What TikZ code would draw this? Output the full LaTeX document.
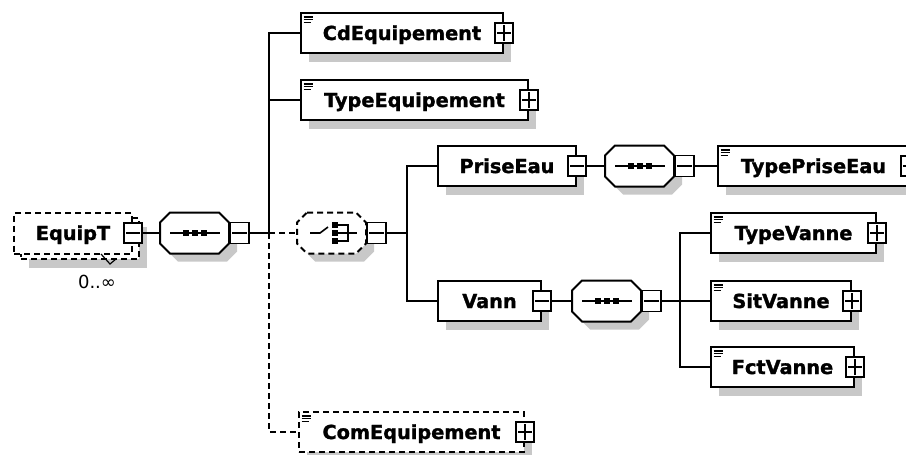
\documentclass[tikz,border=0pt]{standalone}
\usepackage{fontspec}
\setmainfont{DejaVu Sans}
\newfontfamily\heavyfont[FakeBold=1.5]{DejaVu Sans Bold}
\usetikzlibrary{shadows}
\definecolor{shd}{RGB}{200,200,200}
\tikzset{
  elembox/.style={draw, line width=2pt, fill=white, inner sep=0pt, minimum height=40pt,
    text height=14pt, text depth=0pt, font=\heavyfont\fontsize{19.3}{20}\selectfont, anchor=west},
  shadowed/.style={drop shadow={shadow xshift=8pt, shadow yshift=-9pt, fill=shd, opacity=1}},
  optbox/.style={dash pattern=on 6pt off 4pt},
  signbox/.style={draw, solid, line width=1.6pt, fill=white, minimum width=18pt, minimum height=20pt, inner sep=0pt},
  conn/.style={line width=2pt},
  thinline/.style={line width=1.6pt}
}
\newcommand\xsign[2]{%
  \draw[thinline] ([xshift=3pt]#1.west) -- ([xshift=-3pt]#1.east);
  \if#2+\draw[thinline] ([yshift=-3pt]#1.north) -- ([yshift=3pt]#1.south);\fi}
\newcommand\xicon[1]{%
  \draw[line width=1.3pt] ([xshift=3.5pt,yshift=-5pt]#1.north west) -- ++(9,0);
  \draw[line width=1.3pt] ([xshift=3.5pt,yshift=-7.7pt]#1.north west) -- ++(9,0);
  \draw[line width=1.3pt] ([xshift=3.5pt,yshift=-10.4pt]#1.north west) -- ++(7,0);}
\newcommand\xelem[8]{%
  \node[elembox, shadowed, minimum width=#4pt, #7] (#1) at (#2,#3) {#5\hspace{9pt}};
  \ifnum#8=1 \xicon{#1}\fi
  \node[signbox] (#1-b) at (#1.east) {};
  \xsign{#1-b}{#6}}
\newcommand\xoct[1]{\path[#1] (10,-20.5) -- (59,-20.5) -- (69,-10.5) -- (69,10.5) -- (59,20.5) -- (10,20.5) -- (0,10.5) -- (0,-10.5) -- cycle;}
\newcommand\xcomp[5]{%
  \node[minimum width=69pt, minimum height=41pt, inner sep=0pt, anchor=west] (#1) at (#2,#3) {};
  \begin{scope}[shift={(#2,#3)}]
    \xoct{fill=shd, shift={(8,8)}}
    \xoct{fill=white, draw, line width=2pt, #4}
    \ifx s#5
      \draw[thinline] (10,0) -- (60,0);
      \foreach \sx in {26,35,44} \fill (\sx-3,-3) rectangle (\sx+3,3);
    \else
      \draw[thinline] (13,0) -- (23,0) -- (31,-6);
      \foreach \sy in {-8,0,8} \fill (35,\sy-3) rectangle (41,\sy+3);
      \draw[thinline] (41,-8) -- (51,-8) -- (51,8) -- (41,8);
      \draw[thinline] (41,0) -- (60,0);
    \fi
  \end{scope}
  \node[signbox, minimum width=19pt, minimum height=21pt, anchor=west] (#1-b) at (#1.east) {};
  \xsign{#1-b}{-}}
\begin{document}
\begin{tikzpicture}[x=1pt,y=-1pt]
\useasboundingbox (0,0) rectangle (906,455);
\clip (0,0) rectangle (906,455);
% root element EquipT (multiple occurrences)
\node[elembox, optbox, shadowed, minimum width=118pt, minimum height=41pt] (eqback) at (20,238) {};
\node[elembox, optbox, minimum width=118pt, minimum height=41pt] (eq) at (13,233) {EquipT\hspace{9pt}};
\node[signbox] (eq-b) at (eq.east) {};
\xsign{eq-b}{-}
\node[font=\fontsize{18}{18}\selectfont] (mult) at (97,282) {0..∞};
\draw[line width=1.2pt] (101,254) -- (110,264) -- (116,259);
% compositors
\xcomp{s1}{160}{233}{}{s}
\xcomp{ch}{297}{233}{optbox}{c}
\xcomp{s2}{605}{166}{}{s}
\xcomp{s3}{572}{301}{}{s}
% elements
\xelem{cd}{300}{33}{202}{CdEquipement}{+}{}{1}
\xelem{te}{300}{100}{227}{TypeEquipement}{+}{}{1}
\xelem{pe}{437}{166}{138}{PriseEau}{-}{}{0}
\xelem{tpe}{717}{166}{191}{TypePriseEau}{-}{}{1}
\xelem{va}{437}{301}{103}{Vann}{-}{}{0}
\xelem{tv}{710}{233}{165}{TypeVanne}{+}{}{1}
\xelem{sv}{710}{301}{140}{SitVanne}{+}{}{1}
\xelem{fv}{710}{367}{143}{FctVanne}{+}{}{1}
\xelem{ce}{298}{432}{225}{ComEquipement}{+}{optbox}{1}
% connectors
\coordinate (j1) at (269,233);
\coordinate (j2) at (407,233);
\coordinate (j3) at (680,301);
\draw[conn] (eq-b.east) -- (s1.west);
\draw[conn] (s1-b.east) -- (j1);
\draw[conn] (j1) |- (cd.west);
\draw[conn] (j1) |- (te.west);
\draw[conn, optbox] (j1) -- (ch.west);
\draw[conn, optbox] (j1) |- (ce.west);
\draw[conn] (ch-b.east) -- (j2);
\draw[conn] (j2) |- (pe.west);
\draw[conn] (j2) |- (va.west);
\draw[conn] (pe-b.east) -- (s2.west);
\draw[conn] (s2-b.east) -- (tpe.west);
\draw[conn] (va-b.east) -- (s3.west);
\draw[conn] (s3-b.east) -- (j3);
\draw[conn] (j3) |- (tv.west);
\draw[conn] (j3) -- (sv.west);
\draw[conn] (j3) |- (fv.west);
\end{tikzpicture}
\end{document}
